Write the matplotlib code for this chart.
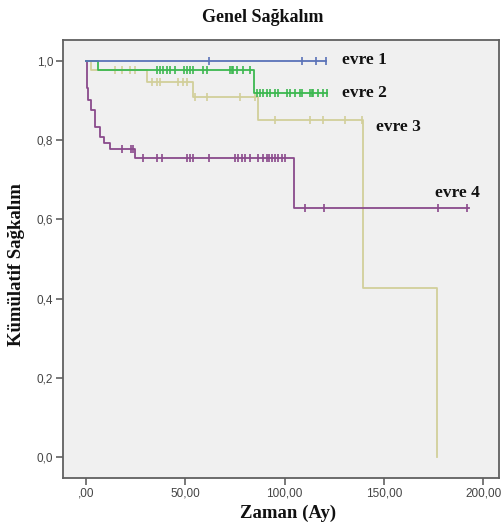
import numpy as np
import matplotlib
matplotlib.use("Agg")
import matplotlib.pyplot as plt

# ---------------- data ----------------
title = "Genel Sağkalım"
xlabel = "Zaman (Ay)"
ylabel = "Kümülatif Sağkalım"
group_names = ["evre 1", "evre 2", "evre 3", "evre 4"]

evre1_times = [0.0]
evre1_surv = [1.0]
evre1_end = 121.0
evre1_cens = [62.0, 109.0, 116.0, 121.0]

evre2_times = [0.0, 6.0, 84.6]
evre2_surv = [1.0, 0.977, 0.920]
evre2_end = 121.2
evre2_cens = [35.6, 37.3, 39.0, 40.6, 42.3, 44.8, 49.4, 50.7, 52.4, 54.0, 59.0,
              60.8, 72.5, 73.4, 74.2, 75.9, 79.2, 82.6, 86.0, 87.7, 89.3, 91.0,
              92.7, 95.2, 96.9, 101.0, 102.8, 105.3, 107.8, 108.7, 112.8, 113.7,
              114.5, 117.0, 119.5, 121.2]

evre3_times = [0.0, 2.4, 30.5, 54.0, 86.7, 139.5, 176.8]
evre3_surv = [1.0, 0.977, 0.948, 0.908, 0.851, 0.427, 0.0]
evre3_end = 176.8
evre3_cens = [14.5, 18.0, 22.0, 24.8, 33.0, 35.6, 37.3, 46.3, 48.9, 50.7, 54.9,
              60.8, 77.6, 85.1, 95.2, 112.8, 119.5, 130.5, 138.9]

evre4_times = [0.0, 0.3, 1.0, 2.7, 4.4, 6.9, 9.0, 12.0, 24.5, 104.8]
evre4_surv = [1.0, 0.931, 0.901, 0.876, 0.834, 0.809, 0.792, 0.777, 0.754, 0.629]
evre4_end = 193.0
evre4_cens = [18.0, 22.5, 23.6, 28.9, 35.6, 38.1, 50.7, 52.4, 54.0, 62.1, 75.1,
              76.7, 78.4, 80.1, 82.6, 86.8, 89.3, 91.0, 92.3, 93.7, 95.2, 96.9,
              98.6, 100.3, 110.3, 120.0, 177.5, 192.0]

xticks = [0, 50, 100, 150, 200]
xtick_labels = [",00", "50,00", "100,00", "150,00", "200,00"]
yticks = [0.0, 0.2, 0.4, 0.6, 0.8, 1.0]
ytick_labels = ["0,0", "0,2", "0,4", "0,6", "0,8", "1,0"]

# label anchor positions (data coords)
label_x = [129.0, 129.0, 146.0, 175.8]
label_y = [1.003, 0.919, 0.833, 0.667]

colors = ["#5a72b8", "#3cb850", "#d2cf9a", "#8a4a8c"]
zorders = [5, 4, 2, 3]

groups = [
    (evre1_times, evre1_surv, evre1_end, evre1_cens),
    (evre2_times, evre2_surv, evre2_end, evre2_cens),
    (evre3_times, evre3_surv, evre3_end, evre3_cens),
    (evre4_times, evre4_surv, evre4_end, evre4_cens),
]

# ---------------- figure ----------------
W, H = 501, 527
fig = plt.figure(figsize=(W / 100, H / 100), dpi=100)
fig.patch.set_facecolor("white")
ax = fig.add_axes([63 / W, 1 - 478 / H, (499 - 63) / W, (478 - 40) / H])
ax.set_facecolor("#f0f0f0")

for (t, s, end, cens), c, z in zip(groups, colors, zorders):
    t = np.asarray(t, float)
    s = np.asarray(s, float)
    xs = np.append(t, end)
    ys = np.append(s, s[-1])
    ax.step(xs, ys, where="post", color=c, lw=1.3, zorder=z)
    cx = np.asarray(cens, float)
    idx = np.searchsorted(t, cx, side="right") - 1
    cy = s[idx]
    ax.plot(cx, cy, linestyle="none", marker="|", markersize=5.5, mew=1.2,
            color=c, zorder=z + 0.5)

for name, lx, ly in zip(group_names, label_x, label_y):
    ax.text(lx, ly, name, ha="left", va="center", fontsize=12.5,
            fontweight="bold", family="Liberation Serif", color="#111111",
            zorder=10)

ax.set_xlim(-11.6, 208.0)
ax.set_ylim(-0.053, 1.053)

ax.set_xticks(xticks)
ax.set_xticklabels(xtick_labels)
ax.set_yticks(yticks)
ax.set_yticklabels(ytick_labels)
for lab in ax.get_xticklabels() + ax.get_yticklabels():
    lab.set_family("Liberation Sans")
    lab.set_fontsize(8.5)
    lab.set_color("#444444")
ax.tick_params(axis="both", direction="out", length=5, width=1.1,
               color="#555555", pad=2)

for sp in ax.spines.values():
    sp.set_color("#606060")
    sp.set_linewidth(1.3)

ax.set_xlabel(xlabel, fontsize=13.5, fontweight="bold",
              family="Liberation Serif", color="#111111")
ax.xaxis.set_label_coords((288 - 63) / 436, (478 - 513) / 438)
ax.xaxis.label.set_va("center")
ax.set_ylabel(ylabel, fontsize=13.5, fontweight="bold",
              family="Liberation Serif", color="#111111")
ax.yaxis.set_label_coords((17 - 63) / 436, (478 - 265) / 438)
ax.yaxis.label.set_va("center")
fig.text(263 / W, 1 - 18 / H, title, ha="center", va="center", fontsize=13,
         fontweight="bold", family="Liberation Serif", color="#111111")

fig.savefig("out.png", dpi=100)
